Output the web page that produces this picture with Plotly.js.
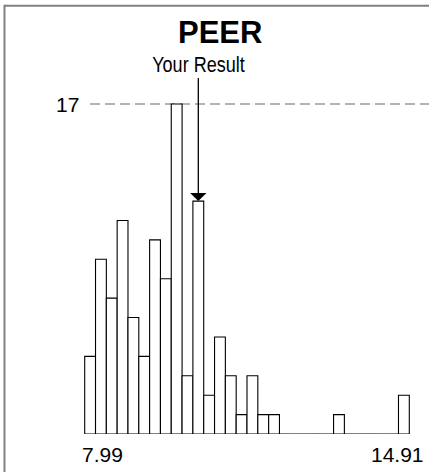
<!DOCTYPE html>
<html>
<head>
<meta charset="utf-8">
<script src="https://cdn.plot.ly/plotly-3.0.1.min.js"></script>
<style>
  html, body { margin: 0; padding: 0; background: #fff; }
  #chart { width: 429px; height: 472px; }
</style>
</head>
<body>
<div id="chart"></div>
<script>
// Histogram of peer results, 30 equal bins between the lowest and highest value
const lowValue = 7.99;
const highValue = 14.91;
const binCounts = [4, 9, 7, 11, 6, 4, 10, 8, 17, 3, 12, 2, 5, 3, 1, 3, 1, 1,
                   0, 0, 0, 0, 0, 1, 0, 0, 0, 0, 0, 2];
const resultBin = 10;          // bin holding "Your Result"
const refLevel = 17;           // dashed reference level
const tickLabels = ['7.99', '14.91'];
const chartTitle = 'PEER';
const resultLabel = 'Your Result';

const nBins = binCounts.length;
const binWidth = (highValue - lowValue) / nBins;
const binCenters = binCounts.map((_, i) => lowValue + (i + 0.5) * binWidth);

// pixel layout of the drawing area
const W = 429, H = 472;
const plotBottom = 434;          // baseline of the bars
const firstBarLeft = 84.7;       // px of lowValue
const pxPerBin = 10.82;
const pxPerCount = 19.41;
const pxPerUnitX = pxPerBin / binWidth;
const xRange = [lowValue - firstBarLeft / pxPerUnitX,
                lowValue + (W - firstBarLeft) / pxPerUnitX];
const yRange = [0, plotBottom / pxPerCount];
const px = v => v / W;                       // x pixel -> paper
const py = v => (plotBottom - v) / plotBottom; // y pixel -> paper

const font = 'Liberation Sans, Arial, sans-serif';

const trace = {
  type: 'bar',
  x: binCenters,
  y: binCounts,
  width: binWidth,
  marker: { color: '#ffffff', line: { color: '#000000', width: 1.1 } },
  hoverinfo: 'skip'
};

const layout = {
  width: W, height: H,
  margin: { l: 0, r: 0, t: 0, b: H - plotBottom, pad: 0 },
  paper_bgcolor: '#ffffff',
  plot_bgcolor: '#ffffff',
  showlegend: false,
  bargap: 0,
  xaxis: { range: xRange, visible: false, fixedrange: true },
  yaxis: { range: yRange, visible: false, fixedrange: true },
  shapes: [
    // reference level
    { type: 'line', xref: 'paper', yref: 'y', x0: px(90), x1: 1, y0: refLevel, y1: refLevel,
      line: { color: '#9a9a9a', width: 1.5, dash: '10px,5px' }, layer: 'below' },
    // frame: top and left edges
    { type: 'line', xref: 'paper', yref: 'paper', x0: px(4.5), x1: 1, y0: py(5.7), y1: py(5.7),
      line: { color: '#808080', width: 2 } },
    { type: 'line', xref: 'paper', yref: 'paper', x0: px(4.5), x1: px(4.5), y0: py(4.7), y1: py(H),
      line: { color: '#808080', width: 2 } }
  ],
  annotations: [
    { text: '<b>' + chartTitle + '</b>', xref: 'paper', yref: 'paper',
      x: px(219.5), y: py(33), xanchor: 'center', yanchor: 'middle', showarrow: false,
      font: { family: font, size: 31, color: '#000' } },
    { text: resultLabel, xref: 'x', yref: 'y',
      x: binCenters[resultBin], y: binCounts[resultBin],
      ax: 0, ay: -137, axref: 'pixel', ayref: 'pixel',
      showarrow: true, arrowhead: 1, arrowsize: 2.1, arrowwidth: 1.3, arrowcolor: '#000',
      standoff: 0,
      font: { family: font, size: 22, color: '#000' } },
    { text: String(refLevel), xref: 'paper', yref: 'y', x: px(81), y: refLevel,
      xanchor: 'right', yanchor: 'middle', showarrow: false,
      font: { family: font, size: 21, color: '#000' } },
    { text: tickLabels[0], xref: 'x', yref: 'paper', x: lowValue, y: py(454),
      xanchor: 'left', yanchor: 'middle', xshift: -5, showarrow: false,
      font: { family: font, size: 21, color: '#000' } },
    { text: tickLabels[1], xref: 'x', yref: 'paper', x: highValue, y: py(454),
      xanchor: 'right', yanchor: 'middle', xshift: 17, showarrow: false,
      font: { family: font, size: 21, color: '#000' } }
  ]
};

Plotly.newPlot('chart', [trace], layout, { staticPlot: true, displayModeBar: false })
  .then(gd => {
    // the result label is set in a narrow face: squeeze it horizontally about its centre
    const labels = gd.querySelectorAll('.annotation-text');
    labels.forEach(t => {
      if (t.textContent === resultLabel) {
        t.style.transformBox = 'fill-box';
        t.style.transformOrigin = 'center';
        t.style.transform = 'scaleX(0.82)';
      }
    });
  });
</script>
</body>
</html>
